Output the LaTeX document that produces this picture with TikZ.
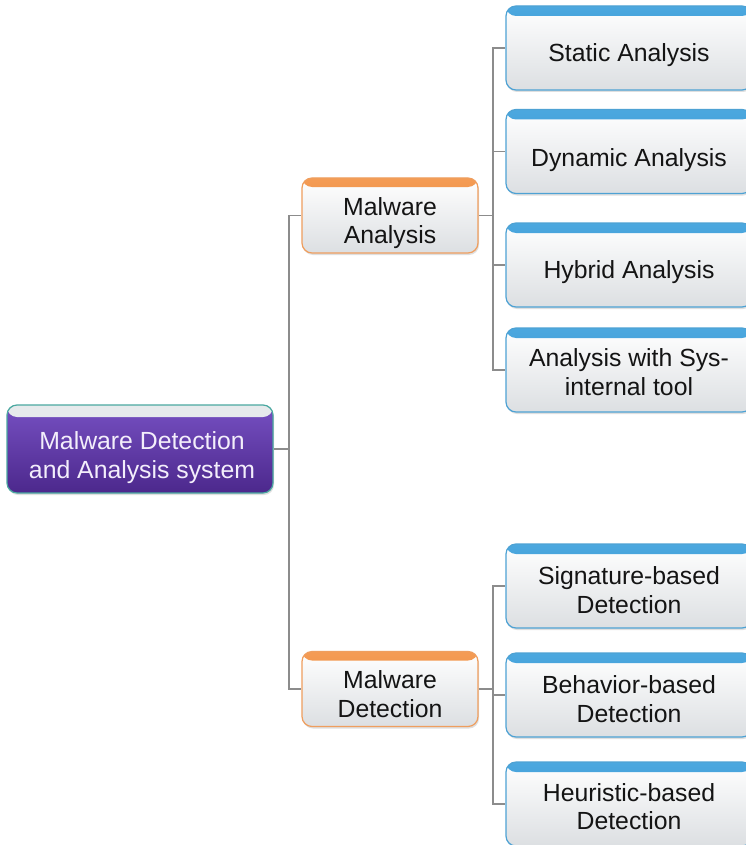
\documentclass[tikz,border=0pt]{standalone}
\usepackage{fontspec}
\setmainfont{Liberation Sans}
\usetikzlibrary{shadows}
\definecolor{conncol}{HTML}{8C8C8C}
\definecolor{leafband}{HTML}{2E8CCB}
\definecolor{leafbandtop}{HTML}{4CA8DF}
\definecolor{leafborder}{HTML}{4EA2D4}
\definecolor{midband}{HTML}{EC8030}
\definecolor{midbandtop}{HTML}{F49C55}
\definecolor{midborder}{HTML}{EF9E5E}
\definecolor{bodytop}{HTML}{FFFFFF}
\definecolor{bodybot}{HTML}{DCDFE2}
\definecolor{roottop}{HTML}{7650C2}
\definecolor{rootbot}{HTML}{4C288C}
\definecolor{rootborder}{HTML}{4AA8A0}
\definecolor{rootband}{HTML}{E6EAEC}
\definecolor{roottext}{HTML}{F3EEFB}
\definecolor{textcol}{HTML}{141414}
\tikzset{
  box/.style={rounded corners=10pt, line width=1.2pt, inner sep=0pt,
    drop shadow={opacity=0.25, shadow xshift=1pt, shadow yshift=-2pt}},
  leafbox/.style={box, draw=leafborder, top color=bodytop, bottom color=bodybot,
    minimum width=246pt, minimum height=84pt,
    path picture={\shade[top color=leafbandtop, bottom color=leafband]
      (path picture bounding box.north west) rectangle ([yshift=-10pt]path picture bounding box.north east);}},
  midbox/.style={box, draw=midborder, top color=bodytop, bottom color=bodybot,
    minimum width=176pt, minimum height=75pt,
    path picture={\shade[top color=midbandtop, bottom color=midband]
      (path picture bounding box.north west) rectangle ([yshift=-9pt]path picture bounding box.north east);}},
  rootbox/.style={box, draw=rootborder, top color=roottop, bottom color=rootbot,
    minimum width=266pt, minimum height=88pt,
    path picture={\fill[rootband]
      (path picture bounding box.north west) rectangle ([yshift=-12pt]path picture bounding box.north east);}},
  lbl/.style={font=\fontsize{24.8}{28.5}\selectfont, text=textcol, align=center, inner sep=0pt},
  conn/.style={draw=conncol, line width=1.4pt},
}
\begin{document}
\begin{tikzpicture}[x=1pt,y=-1pt]
\useasboundingbox (0,0) rectangle (746,845);
\clip (0,0) rectangle (746,845);
\fill[white] (0,0) rectangle (746,845);

% junction points
\coordinate (j1) at (289,449);
\coordinate (j2) at (493,215.5);
\coordinate (j3) at (493,689);

% nodes
\node[rootbox] (root) at (140,449) {};
\node[lbl, text=roottext] (roott) at (142,457.7) {Malware Detection\\and Analysis system};

\node[midbox] (ma) at (390,215.5) {};
\node[lbl] (mat) at (390,223) {Malware\\Analysis};
\node[midbox] (md) at (390,689) {};
\node[lbl] (mdt) at (390,694) {Malware\\Detection};

\node[leafbox] (s1) at (629,48) {};
\node[lbl] (s1t) at (629,54.6) {Static Analysis};
\node[leafbox] (s2) at (629,151.5) {};
\node[lbl] (s2t) at (629,159.6) {Dynamic Analysis};
\node[leafbox] (s3) at (629,265) {};
\node[lbl] (s3t) at (629,271.7) {Hybrid Analysis};
\node[leafbox] (s4) at (629,370) {};
\node[lbl] (s4t) at (629,372) {Analysis with Sys-\\internal tool};

\node[leafbox] (d1) at (629,586) {};
\node[lbl] (d1t) at (629,590) {Signature-based\\Detection};
\node[leafbox] (d2) at (629,695) {};
\node[lbl] (d2t) at (629,699) {Behavior-based\\Detection};
\node[leafbox] (d3) at (629,804) {};
\node[lbl] (d3t) at (629,806.5) {Heuristic-based\\Detection};

\draw[conn] (root.east) -- (j1);
\draw[conn] (j1) |- (ma.west);
\draw[conn] (j1) |- (md.west);
\draw[conn] (ma.east) -- (j2);
\draw[conn] (j2) |- (s1.west);
\draw[conn] (j2) |- (s2.west);
\draw[conn] (j2) |- (s3.west);
\draw[conn] (j2) |- (s4.west);
\draw[conn] (md.east) -- (j3);
\draw[conn] (j3) |- (d1.west);
\draw[conn] (j3) |- (d2.west);
\draw[conn] (j3) |- (d3.west);
\end{tikzpicture}
\end{document}
